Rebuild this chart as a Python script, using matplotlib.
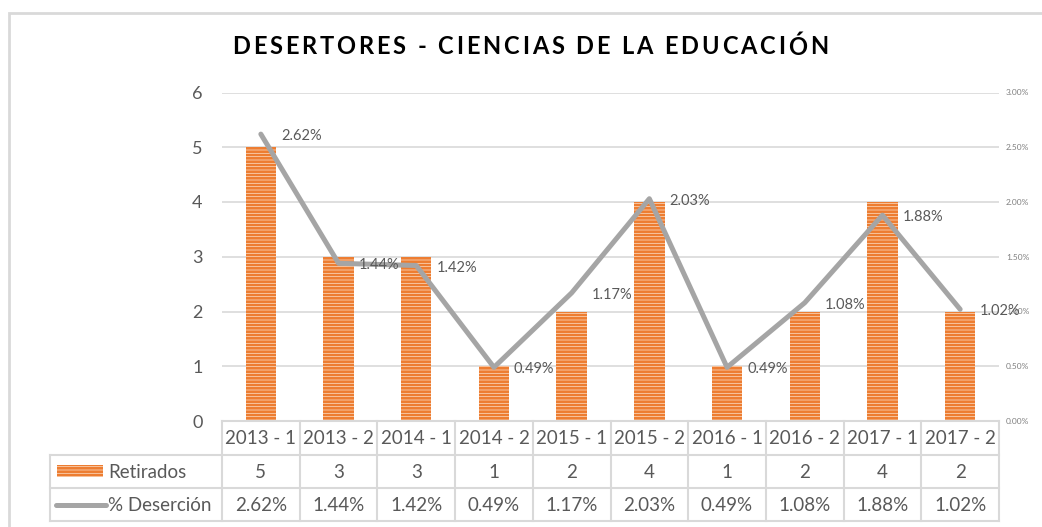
import matplotlib
matplotlib.use('Agg')
import matplotlib.pyplot as plt
import numpy as np
from matplotlib.patches import Rectangle
from matplotlib.lines import Line2D

categories = ['2013 - 1', '2013 - 2', '2014 - 1', '2014 - 2', '2015 - 1',
              '2015 - 2', '2016 - 1', '2016 - 2', '2017 - 1', '2017 - 2']
retirados = [5, 3, 3, 1, 2, 4, 1, 2, 4, 2]
desercion = [2.62, 1.44, 1.42, 0.49, 1.17, 2.03, 0.49, 1.08, 1.88, 1.02]
left_ticks = [0, 1, 2, 3, 4, 5, 6]
right_ticks = [0.0, 0.5, 1.0, 1.5, 2.0, 2.5, 3.0]
series_names = ['Retirados', '% Deserción']
title = 'DESERTORES - CIENCIAS DE LA EDUCACIÓN'

plt.rcParams['font.family'] = ['Lato', 'DejaVu Sans']
plt.rcParams['hatch.linewidth'] = 1.9

W, H = 1042, 527
fig = plt.figure(figsize=(W / 100, H / 100), dpi=100)
fig.patch.set_facecolor('white')

def fx(x):
    return x / W

def fy(y):
    return 1 - y / H

BAR_FACE = '#FCE0CA'
BAR_HATCH = '#ED7D31'
LINE_C = '#A5A5A5'
TXT = '#595959'
GRID = '#D9D9D9'

# plot area
X0, X1 = 222, 999
Y0, Y1 = 421, 92.5
ax = fig.add_axes([fx(X0), fy(Y0), fx(X1) - fx(X0), fy(Y1) - fy(Y0)])
x = np.arange(len(categories))
ax.bar(x, retirados, width=0.39, color=BAR_FACE, edgecolor=BAR_HATCH,
       linewidth=0, hatch='-----', zorder=2)
ax.set_xlim(-0.5, len(categories) - 0.5)
ax.set_ylim(0, 6)
ax.set_yticks(left_ticks)
ax.set_yticklabels([str(t) for t in left_ticks], fontsize=13, color=TXT)
ax.tick_params(axis='y', length=0, pad=14)
ax.set_xticks([])
ax.grid(axis='y', color=GRID, linewidth=1.2, zorder=0)
ax.set_axisbelow(True)
for s in ax.spines.values():
    s.set_visible(False)

ax2 = ax.twinx()
ax2.set_ylim(0, 3)
ax2.set_yticks(right_ticks)
ax2.set_yticklabels([f'{t:.2f}%' for t in right_ticks], fontsize=6, color='#7F7F7F')
ax2.tick_params(axis='y', length=0, pad=5)
for s in ax2.spines.values():
    s.set_visible(False)
ax2.plot(x, desercion, color=LINE_C, linewidth=3.6, solid_joinstyle='round',
         solid_capstyle='round', zorder=3)
for xi, v in zip(x, desercion):
    ax2.annotate(f'{v:.2f}%', (xi, v), xytext=(20, -2), textcoords='offset pixels',
                 ha='left', va='center', fontsize=10.5, color=TXT)

# table
r_top, r1, r2, r3 = 421, 455, 488, 521
TL = 50
cw = (X1 - X0) / len(categories)
edges = [X0 + k * cw for k in range(len(categories) + 1)]
lw_t = 1.5

def hline(xa, xb, y):
    fig.add_artist(Line2D([fx(xa), fx(xb)], [fy(y), fy(y)], color=GRID, lw=lw_t))

def vline(xv, ya, yb):
    fig.add_artist(Line2D([fx(xv), fx(xv)], [fy(ya), fy(yb)], color=GRID, lw=lw_t))

hline(X0, X1, r_top)
for yy in (r1, r2, r3):
    hline(TL, X1, yy)
vline(TL, r1, r3)
for e in edges:
    vline(e, r_top, r3)

for i, c in enumerate(categories):
    cx = (edges[i] + edges[i + 1]) / 2
    fig.text(fx(cx), fy((r_top + r1) / 2 + 1), c, ha='center', va='center', fontsize=13.5, color=TXT)
    fig.text(fx(cx), fy((r1 + r2) / 2 + 1), str(retirados[i]), ha='center', va='center', fontsize=13.5, color=TXT)
    fig.text(fx(cx), fy((r2 + r3) / 2 + 1), f'{desercion[i]:.2f}%', ha='center', va='center', fontsize=13.5, color=TXT)

# legend keys in table
fig.add_artist(Rectangle((fx(57), fy(477)), fx(103) - fx(57), fy(465) - fy(477),
                         facecolor=BAR_FACE, edgecolor=BAR_HATCH, linewidth=0,
                         hatch='-----', transform=fig.transFigure))
fig.add_artist(Line2D([fx(56), fx(106)], [fy(505), fy(505)], color=LINE_C, lw=3.6,
                      solid_capstyle='round'))
fig.text(fx(108), fy((r1 + r2) / 2 + 1), series_names[0], ha='left', va='center', fontsize=13.5, color=TXT)
fig.text(fx(108), fy((r2 + r3) / 2 + 1), series_names[1], ha='left', va='center', fontsize=13.5, color=TXT)

# figure border
fig.add_artist(Rectangle((fx(9), fy(H + 10)), 1.2, fy(13) - fy(H + 10), fill=False,
                         edgecolor=GRID, linewidth=2, transform=fig.transFigure))

# title with letter spacing
renderer = fig.canvas.get_renderer()
tkw = dict(fontsize=17, fontweight='bold', color='black')
widths = []
for ch in title:
    if ch == ' ':
        t1 = fig.text(0, 0, 'A A', **tkw)
        t2 = fig.text(0, 0, 'AA', **tkw)
        w = t1.get_window_extent(renderer).width - t2.get_window_extent(renderer).width
        t1.remove(); t2.remove()
    else:
        t = fig.text(0, 0, ch, **tkw)
        w = t.get_window_extent(renderer).width
        t.remove()
    widths.append(w)
T0, T1 = 232, 828
sp = (T1 - T0 - sum(widths)) / (len(title) - 1)
cx = T0
for ch, w in zip(title, widths):
    if ch != ' ':
        fig.text(fx(cx), fy(47), ch, ha='left', va='center', **tkw)
    cx += w + sp

fig.savefig('out.png', dpi=100)
